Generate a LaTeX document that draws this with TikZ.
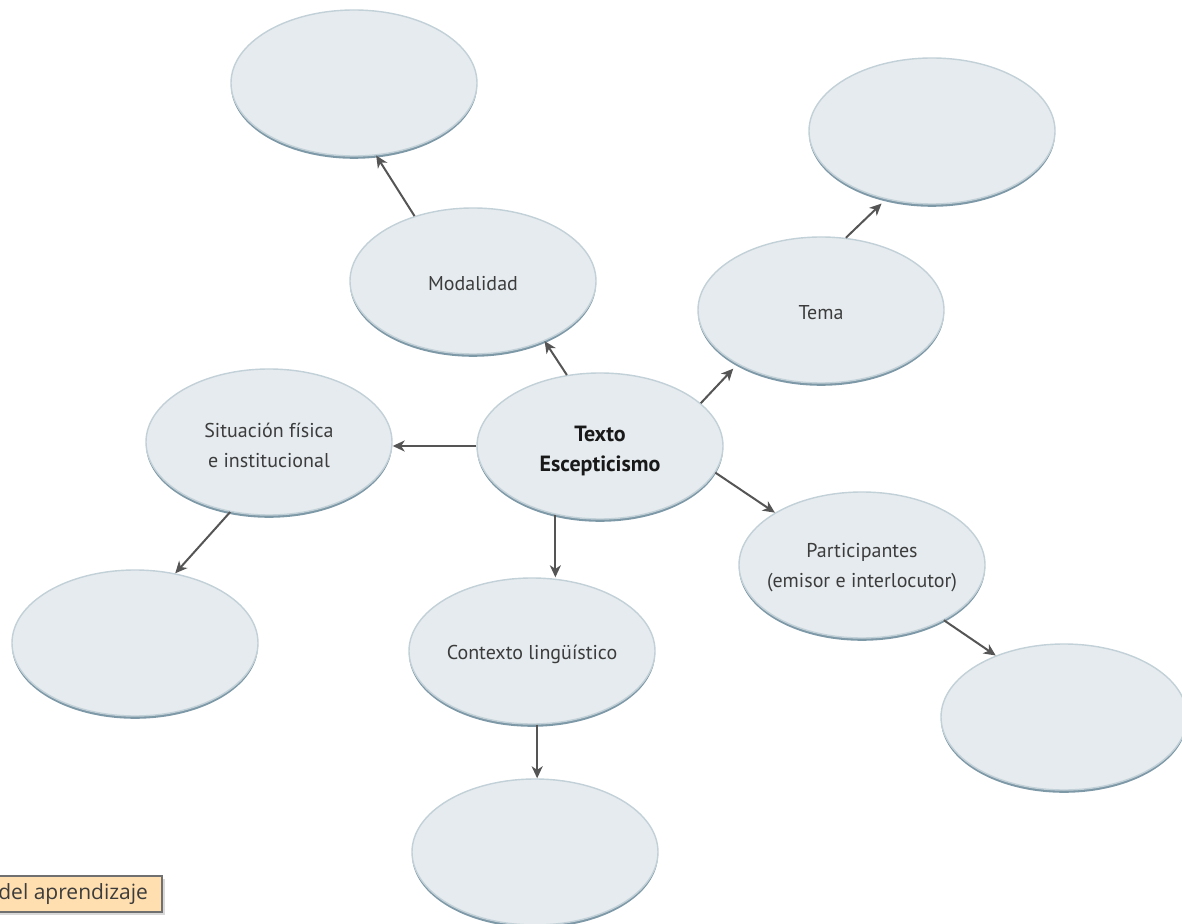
\documentclass[tikz,border=0pt]{standalone}
\usepackage{fontspec}
\setmainfont{PT Sans}
\newfontfamily\tagfont{Open Sans}
\usepackage{xcolor}
\usepackage{tikz}
\usetikzlibrary{shapes.geometric}
\usetikzlibrary{arrows.meta}
\usetikzlibrary{shadows}

\definecolor{blobfill}{HTML}{E5EBEE}
\definecolor{blobrim}{HTML}{C2D0D7}
\definecolor{blobdark}{HTML}{7D98A6}
\definecolor{arrowgray}{HTML}{555555}
\definecolor{txtgray}{HTML}{3C3C3C}
\definecolor{tagfill}{HTML}{FFDFAF}
\definecolor{tagrim}{HTML}{707070}

\begin{document}
\begin{tikzpicture}[x=0.5pt,y=-0.5pt,
    blob/.style={ellipse,minimum width=123pt,minimum height=73pt,inner sep=0pt,
      fill=blobfill,draw=blobrim,line width=0.7pt,
      drop shadow={shadow xshift=0pt,shadow yshift=-1.4pt,fill=blobdark,opacity=1}},
    txt/.style={align=center,text=txtgray,yshift=-1.5pt,font=\fontsize{10}{15}\selectfont},
    arr/.style={draw=arrowgray,line width=1pt,-{Stealth[length=6pt,width=5.5pt,inset=1.8pt]}}]
  \useasboundingbox (0,0) rectangle (1182,924);

  \node[blob] (tl) at (354,83) {};
  \node[blob] (tr) at (932,131) {};
  \node[blob,label={[txt]center:Modalidad}] (modal) at (473,281) {};
  \node[blob,label={[txt]center:Tema}] (tema) at (821,310) {};
  \node[blob,label={[txt]center:{Situación física\\e institucional}}] (situ) at (269,442) {};
  \node[blob,label={[txt,yshift=-1pt,text=black!90,font=\bfseries\fontsize{11}{15}\selectfont]center:{Texto\\Escepticismo}}] (texto) at (600,446) {};
  \node[blob,label={[txt]center:{Participantes\\(emisor e interlocutor)}}] (part) at (862,565) {};
  \node[blob,label={[txt]center:Contexto lingüístico}] (ctx) at (532,651) {};
  \node[blob] (lb) at (135,643) {};
  \node[blob] (rb) at (1064,717) {};
  \node[blob] (bot) at (535,852) {};

  \fill[black,opacity=0.15] (-20,879) rectangle (165,915);
  \filldraw[fill=tagfill,draw=tagrim,line width=0.6pt] (-20,876) rectangle (162,912);
  \node[anchor=east,text=txtgray,font=\tagfont\fontsize{10.5}{12}\selectfont] (aprend) at (155,894) {del aprendizaje};

  \draw[arr] (modal.132) -- (tl.287);
  \draw[arr] (texto.115) -- (modal.320);
  \draw[arr,shorten >=3pt] (tema.71) -- (tr.236);
  \draw[arr,shorten >=3pt] (texto.23) -- (tema.213);
  \draw[arr] (texto.west) -- (texto.west -| situ.east);
  \draw[arr] (situ.241) -- (lb.60);
  \draw[arr] (texto.237) -- (texto.237 |- ctx.north);
  \draw[arr] (texto.347) -- (part.149);
  \draw[arr] (part.326) -- (rb.138);
  \draw[arr] (ctx.274) -- (ctx.274 |- bot.north);
\end{tikzpicture}
\end{document}
